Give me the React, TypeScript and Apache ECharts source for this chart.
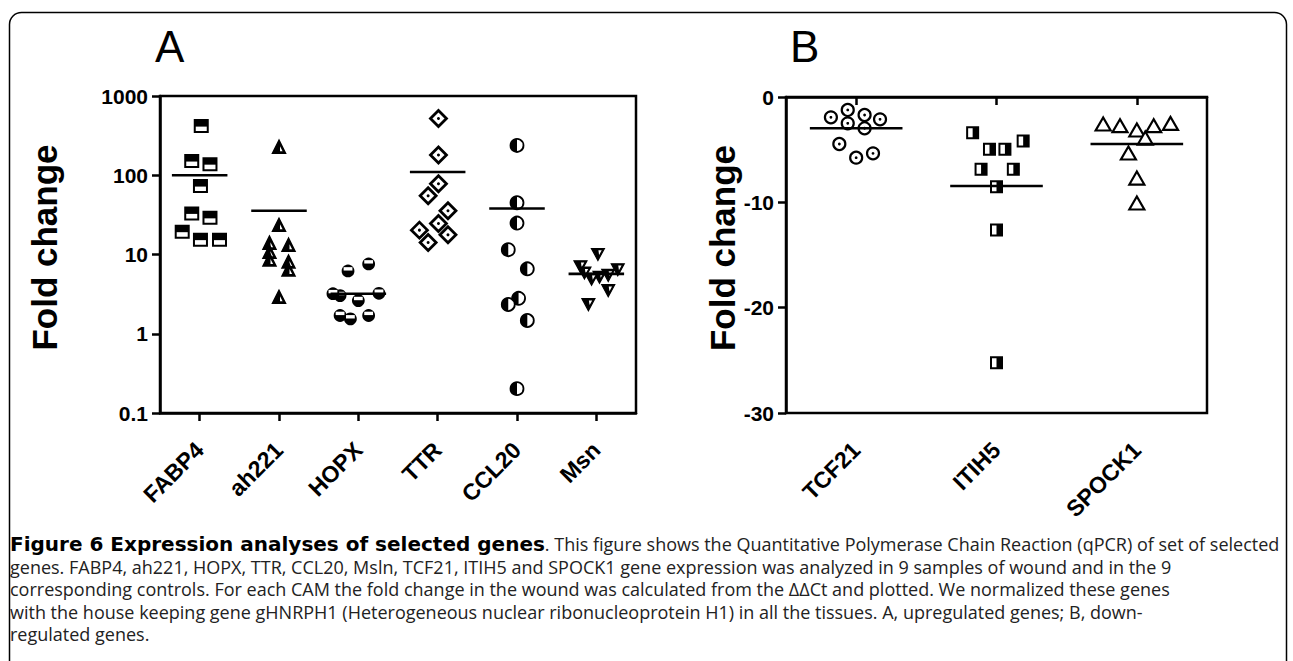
import React, { useEffect, useRef } from "react";
import * as echarts from "echarts";

// ---------- data ----------
const genesA = ["FABP4", "ah221", "HOPX", "TTR", "CCL20", "Msn"];
const genesB = ["TCF21", "ITIH5", "SPOCK1"];
const yTicksA = ["0.1", "1", "10", "100", "1000"];

const fabp4 = [417, 151, 138, 73, 33, 29, 19.4, 15.4, 15.4];
const ah221 = [222, 23, 13.7, 10.5, 8.4, 12.9, 7.9, 6.3, 2.84];
const hopx = [6.2, 7.6, 3.03, 2.62, 3.24, 1.7, 1.54, 1.7, 3.2];
const ttr = [521, 180, 78, 55, 35.6, 24.6, 20.3, 17.7, 14.2];
const ccl20 = [238, 45, 24.9, 11.5, 6.6, 2.8, 2.34, 1.47, 0.203];
const msn = [10.3, 7.2, 6.6, 6.0, 5.6, 5.3, 5.0, 3.6, 2.4];
const meansA = [100, 35.6, 3.2, 110, 38, 5.7];

const tcf21 = [-1.93, -1.23, -1.71, -2.12, -2.5, -2.97, -4.46, -5.35, -5.76];
const itih5 = [-3.39, -4.97, -4.97, -4.18, -6.87, -6.87, -8.52, -12.63, -25.23];
const spock1 = [-2.66, -2.82, -3.23, -2.82, -2.6, -3.99, -5.41, -7.79, -10.16];
const meansB = [-2.97, -8.45, -4.46];

// horizontal scatter (jitter) of each point, in category widths
const jitFabp4 = [0.02, -0.1, 0.13, 0.01, -0.1, 0.13, -0.22, 0.01, 0.25];
const jitAh221 = [0, 0, -0.12, -0.12, -0.12, 0.12, 0.12, 0.12, 0];
const jitHopx = [-0.13, 0.13, -0.23, 0, 0.26, -0.23, -0.1, 0.13, -0.32];
const jitTtr = [0.01, 0.01, 0.01, -0.12, 0.13, 0.01, -0.23, 0.13, -0.12];
const jitCcl20 = [0, 0, 0, -0.11, 0.13, 0.02, -0.11, 0.13, 0];
const jitMsn = [0.02, -0.2, 0.27, -0.15, 0.15, 0.04, -0.06, 0.15, -0.1];
const jitTcf21 = [-0.18, -0.06, 0.06, 0.17, -0.06, 0.06, -0.12, 0.12, 0];
const jitItih5 = [-0.17, -0.05, 0.06, 0.19, -0.11, 0.12, 0, 0, 0];
const jitSpock1 = [-0.24, -0.12, 0, 0.12, 0.24, 0.06, -0.06, 0, 0];

const captionLines = [
  "{b|Figure 6 Expression analyses of selected genes}. This figure shows the Quantitative Polymerase Chain Reaction (qPCR) of set of selected",
  "genes. FABP4, ah221, HOPX, TTR, CCL20, Msln, TCF21, ITIH5 and SPOCK1 gene expression was analyzed in 9 samples of wound and in the 9",
  "corresponding controls. For each CAM the fold change in the wound was calculated from the ΔΔCt and plotted. We normalized these genes",
  "with the house keeping gene gHNRPH1 (Heterogeneous nuclear ribonucleoprotein H1) in all the tissues. A, upregulated genes; B, down-",
  "regulated genes.",
];

// ---------- markers ----------
const K = "#000";
function marker(kind: string, x: number, y: number): any[] {
  switch (kind) {
    case "sqTop":
      return [
        { type: "rect", shape: { x: x - 6.5, y: y - 6, width: 13, height: 12 }, style: { fill: "#fff", stroke: K, lineWidth: 2 } },
        { type: "rect", shape: { x: x - 6.5, y: y - 6, width: 13, height: 6.5 }, style: { fill: K } },
      ];
    case "triLeft":
      return [
        { type: "polygon", shape: { points: [[x, y - 7.5], [x - 6.5, y + 5.5], [x + 6.5, y + 5.5]] }, style: { fill: K, stroke: K, lineWidth: 1.5 } },
        { type: "polygon", shape: { points: [[x + 1, y - 1.5], [x + 1, y + 3.5], [x + 3.6, y + 3.5]] }, style: { fill: "#fff" } },
      ];
    case "circBand":
      return [
        { type: "circle", shape: { cx: x, cy: y, r: 6.4 }, style: { fill: K } },
        { type: "rect", shape: { x: x - 4.4, y: y - 3.8, width: 8.8, height: 3.4 }, style: { fill: "#fff" } },
      ];
    case "diamondDot":
      return [
        { type: "polygon", shape: { points: [[x, y - 8], [x + 8, y], [x, y + 8], [x - 8, y]] }, style: { fill: "#fff", stroke: K, lineWidth: 2.8 } },
        { type: "circle", shape: { cx: x, cy: y, r: 1.5 }, style: { fill: K } },
      ];
    case "circLeft":
      return [
        { type: "circle", shape: { cx: x, cy: y, r: 6.5 }, style: { fill: "#fff", stroke: K, lineWidth: 1.8 } },
        { type: "sector", shape: { cx: x, cy: y, r: 6.5, r0: 0, startAngle: Math.PI / 2, endAngle: (3 * Math.PI) / 2, clockwise: true }, style: { fill: K } },
      ];
    case "invTri":
      return [
        { type: "polygon", shape: { points: [[x - 6.5, y - 5], [x + 6.5, y - 5], [x, y + 7]] }, style: { fill: K, stroke: K, lineWidth: 1.2 } },
        { type: "polygon", shape: { points: [[x + 0.5, y - 3.2], [x + 3.8, y - 3.2], [x + 1.2, y + 1.5]] }, style: { fill: "#fff" } },
      ];
    case "circDot":
      return [
        { type: "circle", shape: { cx: x, cy: y, r: 6 }, style: { fill: "#fff", stroke: K, lineWidth: 2.2 } },
        { type: "circle", shape: { cx: x, cy: y, r: 1.4 }, style: { fill: K } },
      ];
    case "sqRight":
      return [
        { type: "rect", shape: { x: x - 5.5, y: y - 5.5, width: 11, height: 11 }, style: { fill: "#fff", stroke: K, lineWidth: 2 } },
        { type: "rect", shape: { x: x, y: y - 5.5, width: 5.5, height: 11 }, style: { fill: K } },
      ];
    default: // triOpen
      return [
        { type: "polygon", shape: { points: [[x, y - 7.5], [x - 7.5, y + 5.5], [x + 7.5, y + 5.5]] }, style: { fill: "#fff", stroke: K, lineWidth: 2.2 } },
      ];
  }
}

function pointSeries(name: string, idx: number, grid: number, values: number[], jit: number[], kind: string) {
  return {
    name,
    type: "custom",
    xAxisIndex: grid,
    yAxisIndex: grid,
    data: values.map((v, i) => [idx, v, jit[i]]),
    encode: { x: 0, y: 1 },
    renderItem: (params: any, api: any) => {
      const v = api.value(1);
      const c = api.coord([api.value(0), v]);
      const bw = api.coord([1, v])[0] - api.coord([0, v])[0];
      const x = c[0] + api.value(2) * bw;
      return { type: "group", children: marker(kind, x, c[1]) };
    },
    z: 3,
  };
}

function meanSeries(grid: number, means: number[], half: number) {
  return {
    type: "custom",
    xAxisIndex: grid,
    yAxisIndex: grid,
    data: means.map((m, i) => [i, m]),
    encode: { x: 0, y: 1 },
    renderItem: (params: any, api: any) => {
      const v = api.value(1);
      const c = api.coord([api.value(0), v]);
      const bw = api.coord([1, v])[0] - api.coord([0, v])[0];
      return {
        type: "line",
        shape: { x1: c[0] - half * bw, y1: c[1], x2: c[0] + half * bw, y2: c[1] },
        style: { stroke: K, lineWidth: 2.6 },
      };
    },
    z: 4,
  };
}

const FONT = "Liberation Sans, Arial, Helvetica, sans-serif";
const axisLabelStyle = { fontSize: 21, fontWeight: "bold", color: "#000", fontFamily: FONT };
const nameStyle = { fontSize: 35, fontWeight: "bold", color: "#000", fontFamily: FONT, padding: [0, 0, 0, 14] };

export default function App() {
  const ref = useRef<HTMLDivElement>(null);
  useEffect(() => {
    const chart = echarts.init(ref.current!, null, { renderer: "svg" });
    const xCommon = (data: string[], gridIndex: number) => ({
      type: "category",
      gridIndex,
      data,
      boundaryGap: true,
      axisLine: { show: true, lineStyle: { color: K, width: 2.5 } },
      axisTick: { show: true, alignWithLabel: true, length: 8, lineStyle: { color: K, width: 2.5 } },
      axisLabel: { ...axisLabelStyle, fontSize: 23, rotate: 45, margin: 33, interval: 0 },
      splitLine: { show: false },
    });
    const option: any = {
      animation: false,
      backgroundColor: "#fff",
      grid: [
        { left: 160, top: 96, width: 476, height: 317, show: true, borderColor: K, borderWidth: 2.5, backgroundColor: "transparent" },
        { left: 786, top: 97, width: 421, height: 316, show: true, borderColor: K, borderWidth: 2.5, backgroundColor: "transparent" },
      ],
      xAxis: [xCommon(genesA, 0), xCommon(genesB, 1)],
      yAxis: [
        {
          type: "log",
          gridIndex: 0,
          logBase: 10,
          min: 0.1,
          max: 1000,
          name: "Fold change",
          nameLocation: "middle",
          nameGap: 98,
          nameTextStyle: nameStyle,
          axisLine: { show: true, lineStyle: { color: K, width: 2.5 } },
          axisTick: { show: true, length: 8, lineStyle: { color: K, width: 2.5 } },
          minorTick: { show: false },
          splitLine: { show: false },
          axisLabel: {
            ...axisLabelStyle,
            margin: 12,
            formatter: (v: number) => {
              const e = Math.round(Math.log10(v)) + 1;
              return yTicksA[e] ?? String(v);
            },
          },
        },
        {
          type: "value",
          gridIndex: 1,
          min: -30,
          max: 0,
          interval: 10,
          name: "Fold change",
          nameLocation: "middle",
          nameGap: 44,
          nameTextStyle: nameStyle,
          axisLine: { show: true, lineStyle: { color: K, width: 2.5 } },
          axisTick: { show: true, length: 8, lineStyle: { color: K, width: 2.5 } },
          splitLine: { show: false },
          axisLabel: { ...axisLabelStyle, margin: 12 },
        },
      ],
      series: [
        pointSeries("FABP4", 0, 0, fabp4, jitFabp4, "sqTop"),
        pointSeries("ah221", 1, 0, ah221, jitAh221, "triLeft"),
        pointSeries("HOPX", 2, 0, hopx, jitHopx, "circBand"),
        pointSeries("TTR", 3, 0, ttr, jitTtr, "diamondDot"),
        pointSeries("CCL20", 4, 0, ccl20, jitCcl20, "circLeft"),
        pointSeries("Msn", 5, 0, msn, jitMsn, "invTri"),
        meanSeries(0, meansA, 0.35),
        pointSeries("TCF21", 0, 1, tcf21, jitTcf21, "circDot"),
        pointSeries("ITIH5", 1, 1, itih5, jitItih5, "sqRight"),
        pointSeries("SPOCK1", 2, 1, spock1, jitSpock1, "triOpen"),
        meanSeries(1, meansB, 0.33),
      ],
      graphic: [
        {
          type: "rect",
          shape: { x: 9.5, y: 12.5, width: 1277, height: 720, r: 12 },
          style: { fill: "none", stroke: K, lineWidth: 1.5 },
          z: 0,
          silent: true,
        },
        { type: "text", x: 155, y: 24, style: { text: "A", fontSize: 44, fontFamily: FONT, fill: "#000" } },
        { type: "text", x: 790, y: 24, style: { text: "B", fontSize: 44, fontFamily: FONT, fill: "#000" } },
        ...captionLines.map((t, i) => ({
          type: "text",
          x: 10,
          y: 544 + i * 22.6,
          style: {
            text: t,
            fontSize: 18,
            fontFamily: "Open Sans, sans-serif",
            fill: "#222",
            verticalAlign: "middle",
            rich: { b: { fontSize: 20, fontWeight: "bold", fontFamily: "DejaVu Sans, sans-serif", fill: "#000" } },
          },
        })),
      ],
    };
    chart.setOption(option);
    return () => chart.dispose();
  }, []);
  return <div ref={ref} style={{ position: "absolute", left: 0, top: 0, width: 1293, height: 661 }} />;
}
